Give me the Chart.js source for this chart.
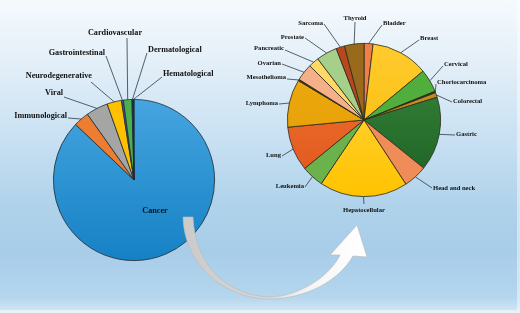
<!DOCTYPE html>
<html>
<head>
<meta charset="utf-8">
<script src="https://cdn.jsdelivr.net/npm/chart.js@4.4.1/dist/chart.umd.min.js"></script>
<style>
  html, body { margin: 0; padding: 0; background: #fff; }
  #wrap {
    position: relative; width: 520px; height: 313px; overflow: hidden;
    background: linear-gradient(to bottom, #f6fafd 0%, #e1eef8 22%, #c8e0f2 45%, #b0d3eb 65%, #a8cde9 80%, #b4d6ee 95%, #d6e8f5 100%);
    box-shadow: inset -3px -3px 0 rgba(255,255,255,0.45);
  }
  #wrap canvas { position: absolute; left: 0; top: 0; }
</style>
</head>
<body>
<div id="wrap">
  <canvas id="diseaseChart" width="520" height="313"></canvas>
  <canvas id="cancerChart" width="520" height="313"></canvas>
</div>
<script>
// left pie: therapeutic areas (share of total, %)
const diseaseLabels = ['Cancer', 'Immunological', 'Viral', 'Neurodegenerative', 'Gastrointestinal', 'Cardiovascular', 'Dermatological', 'Hematological'];
const diseaseShare  = [87.1, 3.1, 4.4, 2.9, 0.4, 1.7, 0.2, 0.2];
const diseaseColors = ['#2a93d5', '#ed7d31', '#a5a5a5', '#ffc000', '#3b5fa8', '#4caf50', '#264478', '#1f2f55'];

// right pie: cancer types (share of cancer, %)
const cancerLabels = ['Bladder', 'Breast', 'Cervical', 'Choriocarcinoma', 'Colorectal', 'Gastric', 'Head and neck', 'Hepatocellular', 'Leukemia', 'Lung', 'Lymphoma', 'Mesothelioma', 'Ovarian', 'Pancreatic', 'Prostate', 'Sarcoma', 'Thyroid'];
const cancerShare  = [1.9, 12.1, 4.9, 0.3, 1.0, 15.6, 5.0, 18.6, 4.7, 9.4, 10.1, 0.3, 3.6, 2.2, 4.4, 1.8, 4.1];
const cancerColors = ['#ef7f4a', '#ffc10f', '#4fae3c', '#2a3a20', '#c38a1e', '#25702c', '#ef8c58', '#ffca1c', '#6bb24d', '#e8601e', '#e9a300', '#3a2a1a', '#f5b089', '#ffd865', '#a6cf8a', '#b8461f', '#9a6a1c'];

// label placement: [textX, textY, align, lineStartX, lineStartY]
const diseaseLabelPos = {
  'Cancer':            [155, 211, 'center'],
  'Immunological':     [67, 116, 'right', 68, 118],
  'Viral':             [63, 93, 'right', 64, 97],
  'Neurodegenerative': [92, 76, 'right', 91, 82],
  'Gastrointestinal':  [105, 53, 'right', 106, 56],
  'Cardiovascular':    [115, 33, 'center', 127, 38],
  'Dermatological':    [148, 50, 'left', 147, 53],
  'Hematological':     [163, 74, 'left', 162, 77]
};
const cancerLabelPos = {
  'Bladder':         [383, 23, 'left', 382, 25],
  'Breast':          [420, 38, 'left', 419, 40],
  'Cervical':        [444, 64, 'left', 443, 66],
  'Choriocarcinoma': [437, 82, 'left', 436, 84],
  'Colorectal':      [453, 101, 'left', 452, 102],
  'Gastric':         [456, 134, 'left', 455, 135],
  'Head and neck':   [433, 188, 'left', 432, 188],
  'Hepatocellular':  [364, 210, 'center', 364, 204],
  'Leukemia':        [304, 186, 'right', 305, 187],
  'Lung':            [281, 155, 'right', 282, 156],
  'Lymphoma':        [278, 103, 'right', 279, 104],
  'Mesothelioma':    [286, 77, 'right', 287, 79],
  'Ovarian':         [281, 63, 'right', 282, 64],
  'Pancreatic':      [284, 48, 'right', 285, 50],
  'Prostate':        [304, 37, 'right', 305, 38],
  'Sarcoma':         [323, 23, 'right', 324, 24],
  'Thyroid':         [355, 18, 'center', 355, 22]
};

// slices that get a soft top-to-bottom shading, [light, dark]
const shaded = {
  'Cancer': ['#45a5df', '#1581c5'],
  'Breast': ['#ffcb2e', '#f7b800'],
  'Gastric': ['#3a8a3a', '#1c5f25'],
  'Hepatocellular': ['#ffd84a', '#ffc300'],
  'Lung': ['#f07636', '#e0551a'],
  'Lymphoma': ['#efad12', '#e09a00']
};

function sliceColor(labels, colors) {
  return function(ctx) {
    const name = labels[ctx.dataIndex];
    const area = ctx.chart.chartArea;
    if (!shaded[name] || !area) return colors[ctx.dataIndex];
    const g = ctx.chart.ctx.createLinearGradient(0, area.top, 0, area.bottom);
    g.addColorStop(0, shaded[name][0]);
    g.addColorStop(1, shaded[name][1]);
    return g;
  };
}

const calloutPlugin = {
  id: 'callouts',
  afterDatasetsDraw(chart, args, opts) {
    const ctx = chart.ctx;
    const meta = chart.getDatasetMeta(0);
    const labels = chart.data.labels;
    ctx.save();
    labels.forEach((name, i) => {
      const p = opts.pos[name];
      if (!p) return;
      const arc = meta.data[i];
      const { x, y, startAngle, endAngle, outerRadius } = arc.getProps(['x', 'y', 'startAngle', 'endAngle', 'outerRadius'], true);
      if (p.length > 3) {
        const a = (startAngle + endAngle) / 2;
        ctx.beginPath();
        ctx.moveTo(p[3], p[4]);
        ctx.lineTo(x + Math.cos(a) * outerRadius, y + Math.sin(a) * outerRadius);
        ctx.strokeStyle = '#2d3b47';
        ctx.lineWidth = 0.8;
        ctx.stroke();
      }
      ctx.font = 'bold ' + opts.size + 'px "Liberation Serif", "Times New Roman", serif';
      ctx.fillStyle = '#111';
      ctx.textAlign = p[2];
      ctx.textBaseline = 'middle';
      ctx.fillText(name, p[0], p[1]);
    });
    ctx.restore();
  }
};

// curved arrow linking the cancer slice to the breakdown
const arrowPlugin = {
  id: 'arrow',
  afterDraw(chart) {
    const ctx = chart.ctx;
    ctx.save();
    const g = ctx.createLinearGradient(185, 0, 360, 0);
    g.addColorStop(0, '#cbcbcb');
    g.addColorStop(0.45, '#d6d6d6');
    g.addColorStop(0.7, '#f4f4f4');
    g.addColorStop(1, '#ffffff');
    ctx.beginPath();
    ctx.moveTo(183, 217);
    ctx.bezierCurveTo(184, 265, 225, 300, 272, 299);
    ctx.bezierCurveTo(305, 298, 338, 282, 353, 256);
    ctx.lineTo(367, 257);
    ctx.lineTo(357, 225);
    ctx.lineTo(330, 255);
    ctx.lineTo(340, 255);
    ctx.bezierCurveTo(330, 276, 300, 296, 270, 297);
    ctx.bezierCurveTo(230, 296, 195, 268, 193, 217);
    ctx.closePath();
    ctx.fillStyle = g;
    ctx.fill();
    ctx.strokeStyle = '#b8b8b8';
    ctx.lineWidth = 0.6;
    ctx.stroke();
    ctx.restore();
  }
};

function pieOptions(pad, pos, size) {
  return {
    responsive: false,
    animation: false,
    layout: { padding: pad },
    plugins: {
      legend: { display: false },
      tooltip: { enabled: false },
      callouts: { pos: pos, size: size }
    },
    events: []
  };
}

new Chart(document.getElementById('diseaseChart'), {
  type: 'pie',
  data: {
    labels: diseaseLabels,
    datasets: [{
      data: diseaseShare,
      backgroundColor: sliceColor(diseaseLabels, diseaseColors),
      borderColor: '#1d2a33',
      borderWidth: 0.8
    }]
  },
  options: pieOptions({ left: 53, right: 305, top: 99, bottom: 52 }, diseaseLabelPos, 8.2),
  plugins: [calloutPlugin, arrowPlugin]
});

new Chart(document.getElementById('cancerChart'), {
  type: 'pie',
  data: {
    labels: cancerLabels,
    datasets: [{
      data: cancerShare,
      backgroundColor: sliceColor(cancerLabels, cancerColors),
      borderColor: '#2a2a1a',
      borderWidth: 0.8
    }]
  },
  options: pieOptions({ left: 287, right: 79, top: 43, bottom: 116 }, cancerLabelPos, 6.6),
  plugins: [calloutPlugin]
});
</script>
</body>
</html>
